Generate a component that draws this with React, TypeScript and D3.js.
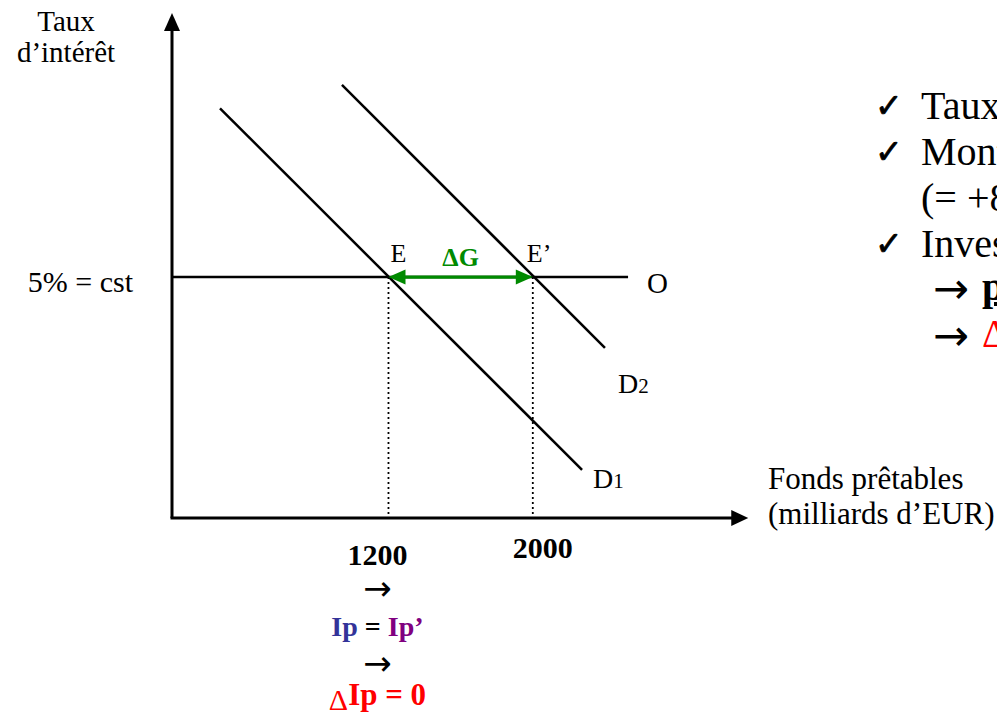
import React from "react";
import * as d3 from "d3";

// ---- data ----
const fundsDomain = [0, 3200]; // milliards d'EUR
const rateDomain = [0, 10.5]; // %
const equilibriumFunds = [1200, 2000];
const equilibriumLabels = ["E", "E\u2019"];
const fixedRate = 5;
const supplyEnd = 2528;
const demand1: [number, number][] = [
  [266, 8.5],
  [2273, 1.0],
];
const demand2: [number, number][] = [
  [942, 8.99],
  [2400, 3.53],
];
const rightLines = [
  { kind: "check", text: "Taux d\u2019intérêt constant" },
  { kind: "check", text: "Montant des fonds prêtables" },
  { kind: "plain", text: "(= +800 milliards d\u2019EUR)" },
  { kind: "check", text: "Investissement privé" },
];

const W = 997;
const H = 715;
const FONT = "'Liberation Serif', 'Times New Roman', 'DejaVu Serif', serif";
const SYM = "'DejaVu Sans', sans-serif";

export default function App() {
  const x = d3.scaleLinear().domain(fundsDomain).range([172, 172 + 3200 * 0.1804]);
  const y = d3.scaleLinear().domain(rateDomain).range([518, 12]);
  const line = d3
    .line<[number, number]>()
    .x((d) => x(d[0]))
    .y((d) => y(d[1]));

  const x0 = x(0);
  const y0 = y(0);
  const yTop = y(rateDomain[1]) + 1;
  const xRight = x(fundsDomain[1]) - 1;
  const yE = y(fixedRate);
  const xE = x(equilibriumFunds[0]);
  const xE2 = x(equilibriumFunds[1]);
  const green = "#008a00";
  const colX = xE - 11;

  return (
    <svg
      width={W}
      height={H}
      style={{ position: "absolute", left: 0, top: 0, background: "#fff" }}
      fontFamily={FONT}
    >
      {/* axes */}
      <line x1={x0} y1={y0} x2={x0} y2={yTop + 14} stroke="#000" strokeWidth={3} />
      <path d={`M${x0},${yTop} L${x0 - 8},${yTop + 18} L${x0 + 8},${yTop + 18} Z`} fill="#000" />
      <line x1={x0 - 1.5} y1={y0} x2={xRight - 14} y2={y0} stroke="#000" strokeWidth={3} />
      <path d={`M${xRight},${y0} L${xRight - 17},${y0 - 8} L${xRight - 17},${y0 + 8} Z`} fill="#000" />

      {/* supply O */}
      <line x1={x0} y1={yE} x2={x(supplyEnd)} y2={yE} stroke="#000" strokeWidth={2.5} />

      {/* demand curves */}
      <path d={line(demand1) || ""} stroke="#000" strokeWidth={2.5} fill="none" />
      <path d={line(demand2) || ""} stroke="#000" strokeWidth={2.5} fill="none" />

      {/* dotted verticals */}
      {equilibriumFunds.map((f) => (
        <line
          key={f}
          x1={x(f)}
          y1={yE}
          x2={x(f)}
          y2={y0}
          stroke="#000"
          strokeWidth={1.8}
          strokeDasharray="2,3"
        />
      ))}

      {/* green double arrow */}
      <line x1={xE + 12} y1={yE} x2={xE2 - 12} y2={yE} stroke={green} strokeWidth={3.2} />
      <path d={`M${xE},${yE} L${xE + 17},${yE - 7.5} L${xE + 17},${yE + 7.5} Z`} fill={green} />
      <path d={`M${xE2},${yE} L${xE2 - 17},${yE - 7.5} L${xE2 - 17},${yE + 7.5} Z`} fill={green} />
      <text x={(xE + xE2) / 2} y={yE - 11} fontSize={26} fontWeight="bold" fill={green} textAnchor="middle">
        {"\u0394G"}
      </text>

      {/* point labels */}
      <text x={xE + 2} y={yE - 15} fontSize={26}>
        {equilibriumLabels[0]}
      </text>
      <text x={xE2 - 6} y={yE - 15} fontSize={26}>
        {equilibriumLabels[1]}
      </text>
      <text x={x(supplyEnd) + 19} y={yE + 16} fontSize={29}>
        O
      </text>
      <text x={x(demand2[1][0]) + 13} y={y(demand2[1][1]) + 45} fontSize={28}>
        D<tspan fontSize={21}>2</tspan>
      </text>
      <text x={x(demand1[1][0]) + 11} y={y(demand1[1][1]) + 18} fontSize={28}>
        D<tspan fontSize={21}>1</tspan>
      </text>

      {/* axis titles */}
      <text x={66} y={31} fontSize={29} textAnchor="middle">
        Taux
      </text>
      <text x={66} y={62} fontSize={29} textAnchor="middle">
        d{"\u2019"}intérêt
      </text>
      <text x={133} y={yE + 15} fontSize={30} textAnchor="end">
        5% = cst
      </text>
      <text x={768} y={489} fontSize={31}>
        Fonds prêtables
      </text>
      <text x={768} y={524} fontSize={31}>
        (milliards d{"\u2019"}EUR)
      </text>

      {/* bottom labels */}
      <text x={colX} y={565} fontSize={30} fontWeight="bold" textAnchor="middle">
        {equilibriumFunds[0]}
      </text>
      <text x={xE2 + 10} y={558} fontSize={30} fontWeight="bold" textAnchor="middle">
        {equilibriumFunds[1]}
      </text>
      <text x={colX} y={600} fontSize={34} fontFamily={SYM} textAnchor="middle">
        {"\u2192"}
      </text>
      <text x={colX} y={636} fontSize={28} fontWeight="bold" textAnchor="middle">
        <tspan fill="#333399">Ip</tspan>
        <tspan fill="#000"> = </tspan>
        <tspan fill="#800080">Ip{"\u2019"}</tspan>
      </text>
      <text x={colX} y={675} fontSize={34} fontFamily={SYM} textAnchor="middle">
        {"\u2192"}
      </text>
      <text x={colX} y={705} fontSize={31} fontWeight="bold" fill="#ff0000" textAnchor="middle">
        <tspan fontSize={30} fontWeight="normal" dy={5}>{"\u0394"}</tspan>
        <tspan dy={-5}>Ip = 0</tspan>
      </text>

      {/* right-side notes (cut by the frame, as in the original) */}
      {rightLines.map((l, i) => (
        <g key={i}>
          {l.kind === "check" && (
            <text x={875} y={117 + i * 46} fontSize={33} fontFamily={SYM} stroke="#000" strokeWidth={0.8}>
              {"\u2713"}
            </text>
          )}
          <text x={921} y={119 + i * 46} fontSize={40}>
            {l.text}
          </text>
        </g>
      ))}
      <text x={933} y={303} fontSize={43} fontFamily={SYM}>
        {"\u2192"}
      </text>
      <text x={982} y={300} fontSize={40} fontWeight="bold" textDecoration="underline">
        pas d{"\u2019"}éviction
      </text>
      <text x={933} y={350} fontSize={43} fontFamily={SYM}>
        {"\u2192"}
      </text>
      <text x={982} y={347} fontSize={40} fill="#ff0000">
        {"\u0394"}Ip = 0
      </text>
    </svg>
  );
}
